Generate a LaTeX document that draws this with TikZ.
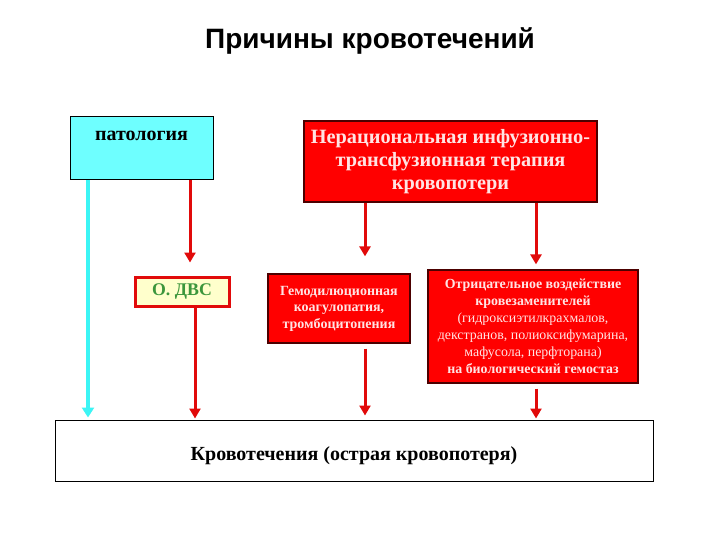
\documentclass[tikz,border=0pt]{standalone}
\usepackage{fontspec}
\setmainfont{Liberation Serif}
\newfontfamily\titlefont{Liberation Sans}
\usepackage{xcolor}
\usetikzlibrary{arrows.meta}
\definecolor{skycyan}{RGB}{110,255,255}
\definecolor{arrcyan}{RGB}{60,245,245}
\definecolor{boxred}{RGB}{255,0,0}
\definecolor{arrred}{RGB}{225,10,10}
\definecolor{paletxt}{RGB}{255,228,228}
\definecolor{cream}{RGB}{255,255,204}
\definecolor{dvsgreen}{RGB}{60,150,60}
\tikzset{
    redbox/.style={rectangle,draw=black!70!red,line width=1.2pt,fill=boxred,text=paletxt,align=center,inner sep=2pt},
    cyanbox/.style={rectangle,draw=black,line width=1pt,fill=skycyan,font=\bfseries\fontsize{20}{24}\selectfont},
    resbox/.style={rectangle,draw=black,line width=1pt,fill=white,font=\bfseries\fontsize{20}{24}\selectfont},
    redarr/.style={draw=arrred,line width=3pt,-{Triangle[length=10pt,width=11pt]}},
    cyanarr/.style={draw=arrcyan,line width=4pt,-{Triangle[length=10pt,width=12pt]}},
}
\newcommand{\lt}[1]{\mdseries #1}

\begin{document}
\begin{tikzpicture}[x=1pt,y=-1pt]
\useasboundingbox[fill=white] (0,0) rectangle (720,540);

\node[font=\titlefont\bfseries\fontsize{28}{32}\selectfont] (title) at (370,41) {Причины кровотечений};

\node[cyanbox,anchor=north,minimum width=143,minimum height=63,inner sep=0pt,text height=21,text depth=36] (pat) at (141.5,116) {патология};
\node[redbox,minimum width=293,minimum height=81,font=\bfseries\fontsize{20.3}{23}\selectfont] (nerac) at (450.5,161.5)
    {Нерациональная инфузионно-\\трансфузионная терапия\\кровопотери};
\node[rectangle,draw=arrred,line width=3pt,fill=cream,text=dvsgreen,minimum width=94,minimum height=29,font=\bfseries\fontsize{17.8}{20}\selectfont] (dvs) at (182,291.5) {О. ДВС};
\node[redbox,minimum width=142,minimum height=69,font=\bfseries\fontsize{14}{16.5}\selectfont] (gemo) at (339,308.5)
    {Гемодилюционная\\коагулопатия,\\тромбоцитопения};
\node[redbox,minimum width=210,minimum height=113,font=\bfseries\fontsize{13.9}{17}\selectfont] (otr) at (533,326.5)
    {Отрицательное воздействие\\кровезаменителей\\\lt{(гидроксиэтилкрахмалов,}\\\lt{декстранов, полиоксифумарина,}\\\lt{мафусола, перфторана)}\\на биологический гемостаз};
\node[resbox,minimum width=598,minimum height=61,text height=24,text depth=5] (res) at (354,450.5) {Кровотечения (острая кровопотеря)};

% arrow columns
\coordinate (xc) at (88,0);
\coordinate (xp) at (190,0);
\coordinate (xd) at (195,0);
\coordinate (xg) at (365,0);
\coordinate (xo) at (536,0);

\draw[cyanarr] (pat.south -| xc) -- ([yshift=2]res.north -| xc);
\draw[redarr] (pat.south -| xp) -- ([yshift=13]dvs.north -| xp);
\draw[redarr] (dvs.south -| xd) -- ([yshift=1]res.north -| xd);
\draw[redarr] (nerac.south -| xg) -- ([yshift=17]gemo.north -| xg);
\draw[redarr] (nerac.south -| xo) -- ([yshift=5]otr.north -| xo);
\draw[redarr] ([yshift=-5]gemo.south -| xg) -- ([yshift=4]res.north -| xg);
\draw[redarr] ([yshift=-5]otr.south -| xo) -- ([yshift=1]res.north -| xo);
\end{tikzpicture}
\end{document}
